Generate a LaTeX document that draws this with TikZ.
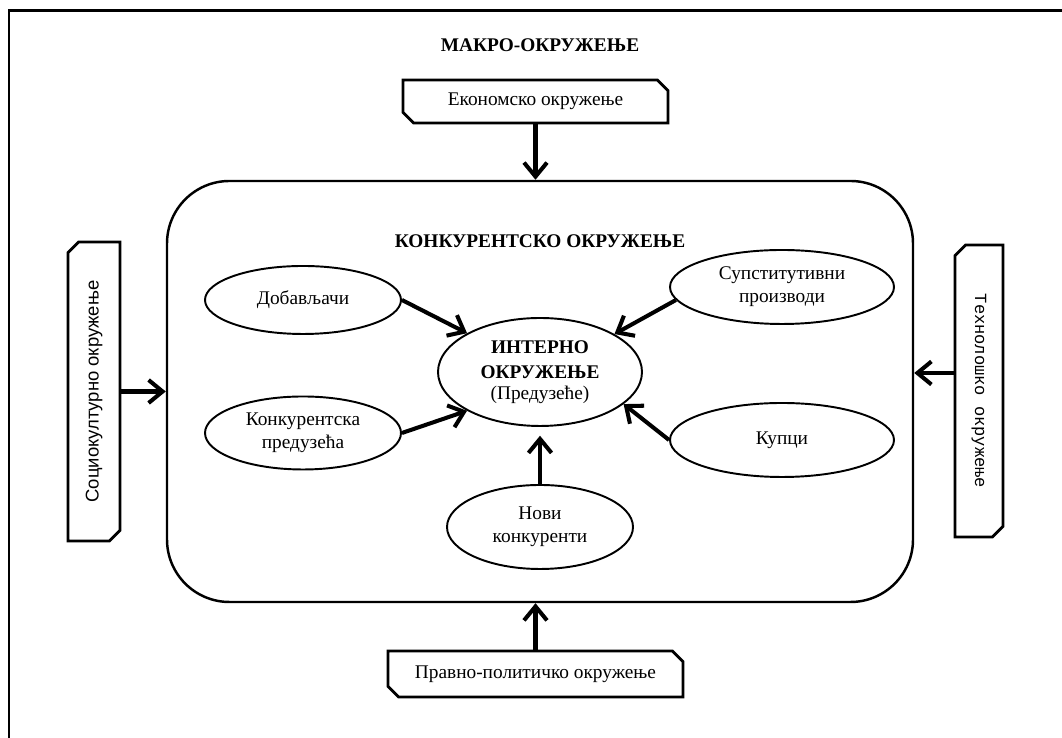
\documentclass[tikz,border=0pt]{standalone}
\usepackage{fontspec}
\setmainfont{Liberation Serif}
\newfontfamily\sansfnt{Liberation Sans}
\newfontfamily\monofnt{Liberation Mono}
\usepackage{tikz}
\usetikzlibrary{positioning}
\usetikzlibrary{arrows.meta}
\usetikzlibrary{shapes}
\tikzset{envbox/.style={draw, line width=1.6pt, chamfered rectangle,
  chamfered rectangle corners={north east,south west},
  chamfered rectangle xsep=3pt, chamfered rectangle ysep=3pt, inner sep=0pt}}
\tikzset{actor/.style={draw, ellipse, line width=1.1pt, inner sep=0pt, align=center}}
\tikzset{arr/.style={-{Straight Barb[length=2.8mm,width=4.6mm]}, line width=2.3pt}}

\begin{document}
\begin{tikzpicture}[font=\fontsize{11}{13}\selectfont]
\useasboundingbox (0,0) rectangle (21.24,14.76);
\draw[line width=1.7pt] (0.18,0) -- (0.18,14.54) -- (21.24,14.54);
\node[font=\fontsize{11}{13}\selectfont\bfseries] (macro) at (10.8,13.86) {МАКРО-ОКРУЖЕЊЕ};
% okruzenja
\node[envbox, minimum width=5.3cm, minimum height=0.86cm] (eko) at (10.71,12.73) {Економско окружење};
\node[envbox, minimum width=5.9cm, minimum height=0.92cm] (pra) at (10.71,1.28) {Правно-политичко окружење};
\node[envbox, rotate=90, minimum width=5.98cm, minimum height=1.04cm, font=\sansfnt\fontsize{10.5}{13}\selectfont] (soc) at (1.88,6.93) {Социокултурно окружење};
\node[envbox, rotate=-90, minimum width=5.84cm, minimum height=0.96cm, font=\monofnt\fontsize{9.7}{12}\selectfont] (teh) at (19.58,6.94) {Технолошко окружење};
\node[draw, line width=1.4pt, rounded corners=1.25cm, minimum width=14.92cm, minimum height=8.42cm] (kon) at (10.8,6.93) {};
\node[font=\fontsize{11}{13}\selectfont\bfseries] (kontitle) at (10.8,9.94) {КОНКУРЕНТСКО ОКРУЖЕЊЕ};
% konkurentsko okruzenje
\node[actor, minimum width=4.08cm, minimum height=2.16cm] (int) at (10.8,7.32) {\textbf{ИНТЕРНО}\\[1pt]\textbf{ОКРУЖЕЊЕ}\\[-1pt](Предузеће)};
\node[actor, minimum width=3.92cm, minimum height=1.36cm] (dob) at (6.06,8.76) {Добављачи};
\node[actor, minimum width=3.92cm, minimum height=1.46cm] (kpr) at (6.06,6.1) {Конкурентска\\предузећа};
\node[actor, minimum width=3.72cm, minimum height=1.68cm] (nov) at (10.8,4.22) {Нови\\конкуренти};
\node[actor, minimum width=4.48cm, minimum height=1.48cm] (sup) at (15.64,9.02) {Супститутивни\\производи};
\node[actor, minimum width=4.48cm, minimum height=1.48cm] (kup) at (15.64,5.96) {Купци};
\draw[arr] (dob.east) -- (int.152);
\draw[arr] (kpr.east) -- (int.208);
\draw[arr] (sup.187) -- (int.27);
\draw[arr] (kup.west) -- (int.339);
\draw[arr, shorten >=5pt] (nov) -- (int);
% spoljne strelice
\draw[arr] (eko.south) -- (eko.south |- kon.north);
\draw[arr] (pra.north) -- (pra.north |- kon.south);
\draw[arr] (soc.south) -- (soc.south -| kon.west);
\draw[arr] (teh.south |- 0,7.3) -- (kon.east |- 0,7.3);
\end{tikzpicture}
\end{document}
